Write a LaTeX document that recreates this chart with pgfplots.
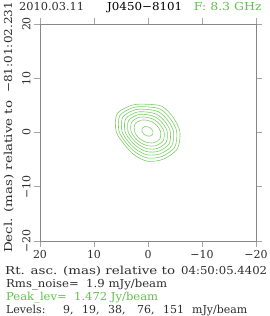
\documentclass[border=0pt]{standalone}
\usepackage{fontspec}
\setmainfont{DejaVu Serif}
\usepackage{graphicx}
\usepackage{pgfplots}
\pgfplotsset{compat=1.18}
\definecolor{cgreen}{RGB}{125,208,105}
\definecolor{tgreen}{RGB}{95,195,75}
\definecolor{axgray}{RGB}{135,135,135}
\definecolor{tkgray}{RGB}{165,165,165}
\definecolor{txt}{RGB}{45,45,45}
\newcommand{\tf}{\fontsize{11}{13}\selectfont}
\newcommand{\fit}[2]{\resizebox{#1bp}{\height}{#2}}
\begin{document}
\begin{tikzpicture}[x=1bp,y=1bp]
\useasboundingbox (0,0) rectangle (270,316);
\begin{axis}[at={(40bp,75bp)}, anchor=south west, scale only axis,
  width=216bp, height=217bp,
  xmin=-20, xmax=20, ymin=-20, ymax=20, x dir=reverse,
  axis line style={axgray, line width=0.8bp},
  tick style={tkgray, line width=0.8bp},
  tick align=outside, major tick length=6bp,
  xtick={-20,-10,0,10,20}, xticklabels={−20,−10,0,10,20},
  ytick={-20,-10,0,10,20}, yticklabels={−20,−10,0,10,20},
  ticklabel style={font=\tf, text=txt},
  yticklabel style={rotate=90, anchor=south},
  xticklabel style={anchor=north},
  clip=false]
\addplot[cgreen, line width=0.6bp, smooth cycle] coordinates {(-5.9,0.2) (-4.58,2.9) (-2.58,4.83) (0.1,5.2) (2.9,5.05) (5.73,3.45) (5.9,0.2) (4.34,-2.25) (2.58,-4.09) (0.1,-5.3) (-2.85,-4.91) (-5.44,-3.0)};
\addplot[cgreen, line width=0.6bp, smooth cycle] coordinates {(-5.31,0.2) (-4.08,2.61) (-2.27,4.31) (0.1,4.72) (2.65,4.62) (5.20,3.15) (5.36,0.2) (3.95,-2.02) (2.32,-3.64) (0.1,-4.70) (-2.57,-4.42) (-4.94,-2.71)};
\addplot[cgreen, line width=0.6bp, smooth cycle] coordinates {(-4.72,0.2) (-3.59,2.33) (-1.98,3.80) (0.1,4.24) (2.40,4.18) (4.67,2.84) (4.81,0.2) (3.55,-1.79) (2.07,-3.21) (0.1,-4.12) (-2.29,-3.93) (-4.42,-2.41)};
\addplot[cgreen, line width=0.6bp, smooth cycle] coordinates {(-4.13,0.2) (-3.11,2.05) (-1.69,3.31) (0.1,3.76) (2.14,3.73) (4.13,2.53) (4.26,0.2) (3.15,-1.56) (1.82,-2.77) (0.1,-3.55) (-2.0,-3.44) (-3.90,-2.11)};
\addplot[cgreen, line width=0.6bp, smooth cycle] coordinates {(-3.55,0.2) (-2.64,1.78) (-1.42,2.83) (0.1,3.27) (1.88,3.27) (3.59,2.21) (3.70,0.2) (2.74,-1.32) (1.57,-2.34) (0.1,-2.99) (-1.71,-2.94) (-3.37,-1.80)};
\addplot[cgreen, line width=0.6bp, smooth cycle] coordinates {(-2.96,0.2) (-2.18,1.51) (-1.15,2.36) (0.1,2.78) (1.61,2.81) (3.04,1.90) (3.13,0.2) (2.32,-1.08) (1.32,-1.92) (0.1,-2.44) (-1.42,-2.44) (-2.83,-1.49)};
\addplot[cgreen, line width=0.6bp, smooth cycle] coordinates {(-2.32,0.2) (-1.68,1.23) (-0.87,1.88) (0.1,2.24) (1.30,2.28) (2.43,1.55) (2.51,0.2) (1.86,-0.82) (1.06,-1.46) (0.1,-1.86) (-1.11,-1.89) (-2.23,-1.14)};
\addplot[cgreen, line width=0.6bp, smooth cycle] coordinates {(-0.92,0.22) (-0.65,0.65) (-0.30,0.92) (0.1,1.08) (0.61,1.10) (1.09,0.79) (1.12,0.22) (0.85,-0.21) (0.50,-0.48) (0.1,-0.64) (-0.41,-0.66) (-0.89,-0.35)};
\end{axis}
\begin{scope}[every node/.style={inner sep=0pt, font=\tf, text=txt}]
\node[anchor=base west] at (19,306) {\fit{65}{2010.03.11}};
\node[anchor=base west, text=black] at (107,306) {\fit{75}{J0450−8101}};
\node[anchor=base east, text=tgreen] at (262,306) {\fit{68}{F: 8.3 GHz}};
\node[anchor=base west, rotate=90] at (12,63) {\fit{152}{Decl. (mas) relative to}};
\node[anchor=base west, rotate=90] at (12,223) {\fit{91}{−81:01:02.231}};
\node[anchor=base west] at (5,42) {\fit{170}{Rt. asc. (mas) relative to}};
\node[anchor=base west] at (181,42) {\fit{86}{04:50:05.4402}};
\node[anchor=base west] at (6,29) {\fit{161}{Rms\_noise=~~1.9 mJy/beam}};
\node[anchor=base west, text=tgreen] at (6,16) {\fit{152}{Peak\_lev=~~1.472 Jy/beam}};
\node[anchor=base west] at (6,3) {Levels:};
\node[anchor=base west] at (63,3) {9,};
\node[anchor=base west] at (82,3) {19,};
\node[anchor=base west] at (108,3) {38,};
\node[anchor=base west] at (137,3) {76,};
\node[anchor=base west] at (163,3) {151};
\node[anchor=base west] at (192,3) {mJy/beam};
\end{scope}
\end{tikzpicture}
\end{document}
